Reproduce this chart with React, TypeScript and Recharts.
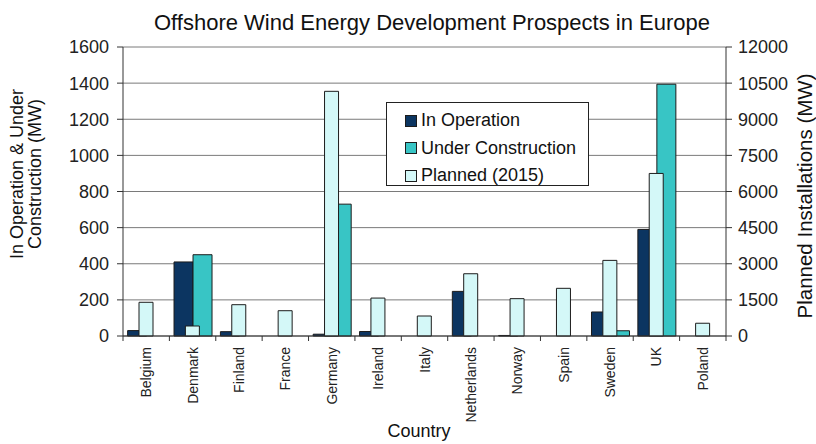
import { BarChart, Bar, XAxis, YAxis, CartesianGrid, Legend } from 'recharts';

const countries = ['Belgium', 'Denmark', 'Finland', 'France', 'Germany', 'Ireland', 'Italy', 'Netherlands', 'Norway', 'Spain', 'Sweden', 'UK', 'Poland'];
const inOperation = [30, 410, 24, 0, 10, 25, 0, 247, 3, 0, 133, 590, 0];
const underConstruction = [0, 450, 0, 0, 730, 0, 0, 0, 0, 0, 29, 1394, 0];
const planned = [1400, 415, 1300, 1050, 10160, 1575, 830, 2585, 1550, 1980, 3140, 6750, 530];

const leftTicks = [0, 200, 400, 600, 800, 1000, 1200, 1400, 1600];
const rightTicks = [0, 1500, 3000, 4500, 6000, 7500, 9000, 10500, 12000];

const data = countries.map((country, i) => ({
  country,
  inOperation: inOperation[i],
  underConstruction: underConstruction[i],
  planned: planned[i],
}));

const FONT = 'Liberation Sans, Arial, sans-serif';
const NAVY = '#0c3561';
const TEAL = '#38c5c5';
const PALE = '#d4f8f8';
const EDGE = '#1c1c1c';

const legendItems = [
  { label: 'In Operation', color: NAVY },
  { label: 'Under Construction', color: TEAL },
  { label: 'Planned (2015)', color: PALE },
];

const CountryTick = (props: any) => {
  const { x, y, payload } = props;
  const half = payload?.offset || 23.2;
  const isLast = payload?.index === countries.length - 1;
  return (
    <g>
      <line x1={x - half} x2={x - half} y1={y} y2={y + 5} stroke='#333' />
      {isLast && <line x1={x + half} x2={x + half} y1={y} y2={y + 5} stroke='#333' />}
      <text
        transform={`translate(${x},${y + 11}) rotate(-90)`}
        textAnchor='end'
        dy={5}
        fontSize={14}
        fontFamily={FONT}
        fill='#222'
      >
        {payload.value}
      </text>
    </g>
  );
};

const LegendBox = () => (
  <div
    style={{
      width: 201,
      height: 78,
      border: '1px solid #222',
      background: '#fff',
      boxSizing: 'content-box',
      paddingTop: 4,
      textAlign: 'left',
    }}
  >
    {legendItems.map((item) => (
      <div
        key={item.label}
        style={{ display: 'flex', alignItems: 'center', height: 27.5, paddingLeft: 18 }}
      >
        <span
          style={{
            width: 10,
            height: 10,
            background: item.color,
            border: `1px solid ${EDGE}`,
            marginRight: 4,
          }}
        />
        <span style={{ fontFamily: FONT, fontSize: 18, color: '#111' }}>{item.label}</span>
      </div>
    ))}
  </div>
);

export default function App() {
  return (
    <div style={{ position: 'absolute', left: 0, top: 0, background: '#fff' }}>
      <BarChart
        width={816}
        height={444}
        data={data}
        margin={{ top: 47, right: 0, left: 0, bottom: 0 }}
        barGap={0}
      >
        <text x={432} y={30} textAnchor='middle' fontSize={22} fontFamily={FONT} fill='#111'>
          Offshore Wind Energy Development Prospects in Europe
        </text>
        <text transform='translate(23,174) rotate(-90)' textAnchor='middle' fontSize={18} fontFamily={FONT} fill='#111'>
          In Operation &amp; Under
        </text>
        <text transform='translate(41,174) rotate(-90)' textAnchor='middle' fontSize={18} fontFamily={FONT} fill='#111'>
          Construction (MW)
        </text>
        <text transform='translate(812,196) rotate(-90)' textAnchor='middle' fontSize={20.5} fontFamily={FONT} fill='#111'>
          Planned Installations (MW)
        </text>
        <text x={419} y={437} textAnchor='middle' fontSize={18} fontFamily={FONT} fill='#111'>
          Country
        </text>

        <CartesianGrid vertical={false} stroke='#7a7a7a' xAxisId='a' yAxisId='left' />
        <XAxis
          xAxisId='a'
          dataKey='country'
          height={108}
          interval={0}
          tickSize={0}
          tickMargin={0}
          tickLine={false}
          axisLine={{ stroke: '#333' }}
          tick={<CountryTick />}
        />
        <XAxis xAxisId='b' dataKey='country' hide />
        <YAxis
          yAxisId='left'
          width={123}
          domain={[0, 1600]}
          ticks={leftTicks}
          interval={0}
          tickSize={6}
          tickMargin={8}
          axisLine={{ stroke: '#333' }}
          tickLine={{ stroke: '#333' }}
          tick={{ fontSize: 18, fontFamily: FONT, fill: '#222' }}
        />
        <YAxis
          yAxisId='right'
          orientation='right'
          width={90}
          domain={[0, 12000]}
          ticks={rightTicks}
          interval={0}
          tickSize={6}
          tickMargin={6}
          axisLine={{ stroke: '#333' }}
          tickLine={{ stroke: '#333' }}
          tick={{ fontSize: 18, fontFamily: FONT, fill: '#222' }}
        />
        <Legend
          layout='horizontal'
          verticalAlign='middle'
          align='center'
          content={<LegendBox />}
          wrapperStyle={{ position: 'absolute', left: 386, top: 102, width: 'auto', height: 'auto' }}
        />
        <Bar
          dataKey='inOperation'
          name='In Operation'
          xAxisId='a'
          yAxisId='left'
          fill={NAVY}
          stroke={EDGE}
          strokeWidth={1}
          isAnimationActive={false}
        />
        <Bar
          dataKey='underConstruction'
          name='Under Construction'
          xAxisId='a'
          yAxisId='left'
          fill={TEAL}
          stroke={EDGE}
          strokeWidth={1}
          isAnimationActive={false}
        />
        <Bar
          dataKey='planned'
          name='Planned (2015)'
          xAxisId='b'
          yAxisId='right'
          fill={PALE}
          stroke={EDGE}
          strokeWidth={1}
          barSize={14}
          isAnimationActive={false}
        />
      </BarChart>
    </div>
  );
}
